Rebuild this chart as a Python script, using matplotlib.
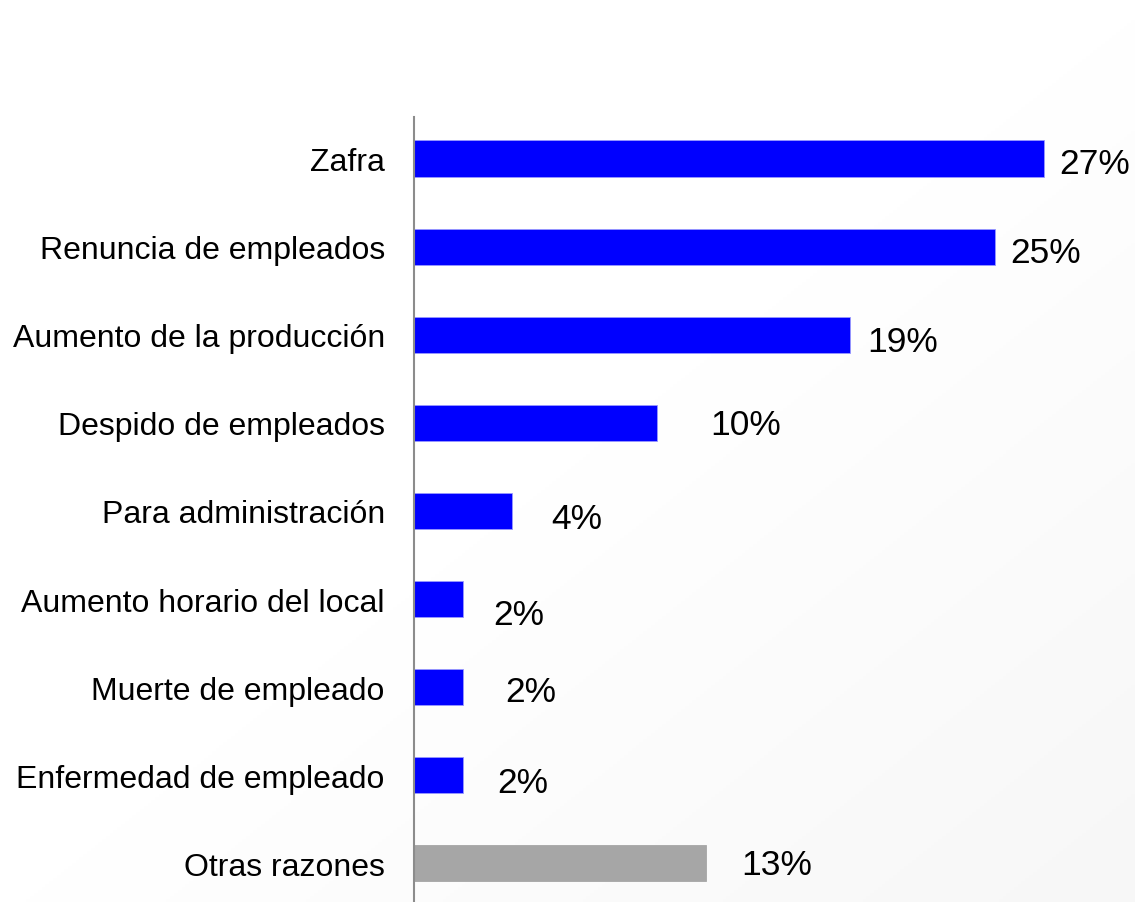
import numpy as np
import matplotlib
matplotlib.use("Agg")
import matplotlib.pyplot as plt

plt.rcParams['font.family'] = ['Liberation Sans', 'DejaVu Sans']

# data
categorias = ['Zafra', 'Renuncia de empleados', 'Aumento de la producción',
              'Despido de empleados', 'Para administración',
              'Aumento horario del local', 'Muerte de empleado',
              'Enfermedad de empleado', 'Otras razones']
valores = [27, 24.9, 18.7, 10.4, 4.2, 2.1, 2.1, 2.1, 12.5]
etiquetas = ['27%', '25%', '19%', '10%', '4%', '2%', '2%', '2%', '13%']

colores = ['#0000FF'] * 8 + ['#A6A6A6']
bordes = ['#9999ff'] * 8 + ['#A6A6A6']
# hand-placed label offsets (pixels from bar end)
desp_x = [15, 15, 17, 54, 39, 30, 42, 34, 36]
desp_y = [-5, -6, -7, -2, -8, -15, -4, -7, -1]

fig = plt.figure(figsize=(11.35, 9.03), dpi=100)

# soft diagonal background shading
bg = fig.add_axes([0, 0, 1, 1], zorder=-1)
xx, yy = np.meshgrid(np.linspace(0, 1, 300), np.linspace(0, 1, 300))
g = np.clip((xx + yy - 0.9) / 1.1, 0, 1)
bg.imshow(1 - 0.035 * g, cmap='gray', vmin=0, vmax=1, aspect='auto',
          extent=[0, 1, 0, 1], origin='upper')
bg.axis('off')

ax = fig.add_axes([414 / 1135, 0, 721 / 1135, 785 / 903])
ax.patch.set_alpha(0)
y = np.arange(len(categorias))
ax.barh(y, valores, height=0.42, color=colores, edgecolor=bordes,
        linewidth=0.6)

for i in range(len(valores)):
    ax.annotate(etiquetas[i], (valores[i], y[i]), xytext=(desp_x[i], desp_y[i]),
                textcoords='offset pixels', ha='left', va='center',
                fontsize=25.5, color='black')

ax.set_xlim(0, 721 / 23.33)
ax.set_ylim(8.443, -0.477)
ax.set_yticks(y)
ax.set_yticklabels(categorias, fontsize=23)
ax.tick_params(axis='y', length=0, pad=21)
ax.set_xticks([])
for s in ['top', 'right', 'bottom']:
    ax.spines[s].set_visible(False)
ax.spines['left'].set_color('#8c8c8c')
ax.spines['left'].set_linewidth(1.5)

fig.savefig('out.png', dpi=100)
